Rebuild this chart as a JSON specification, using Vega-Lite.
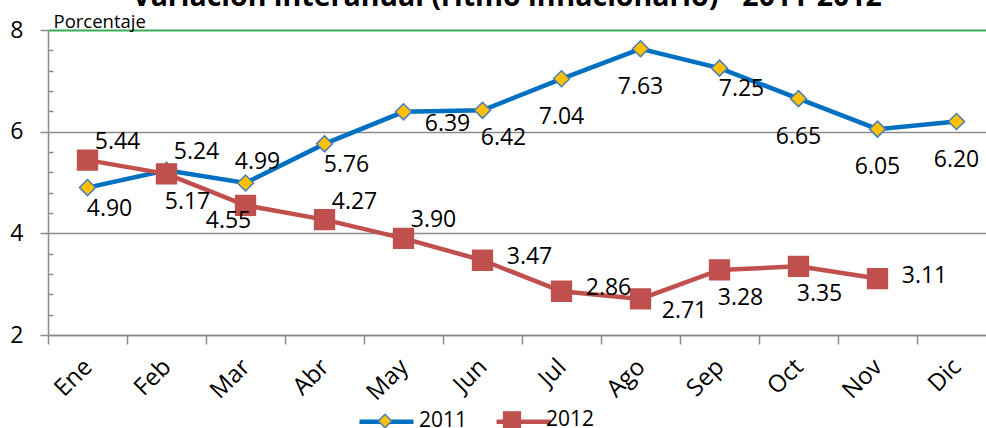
{
  "$schema": "https://vega.github.io/schema/vega-lite/v6.json",
  "width": 938,
  "height": 305,
  "autosize": {"type": "none"},
  "padding": {"left": 48, "top": 30, "right": 0, "bottom": 93},
  "background": "white",
  "config": {"font": "Open Sans", "view": {"stroke": null}},
  "title": {"text": "Variación interanual (ritmo inflacionario) - 2011-2012", "fontSize": 28.5, "fontWeight": "bold", "font": "Open Sans", "color": "black", "anchor": "middle", "frame": "group", "baseline": "alphabetic", "offset": 0, "dy": 22, "dx": -10},
  "data": {"values": [
    {"mes": "Ene", "anio": "2011", "valor": 4.90},
    {"mes": "Feb", "anio": "2011", "valor": 5.24},
    {"mes": "Mar", "anio": "2011", "valor": 4.99},
    {"mes": "Abr", "anio": "2011", "valor": 5.76},
    {"mes": "May", "anio": "2011", "valor": 6.39},
    {"mes": "Jun", "anio": "2011", "valor": 6.42},
    {"mes": "Jul", "anio": "2011", "valor": 7.04},
    {"mes": "Ago", "anio": "2011", "valor": 7.63},
    {"mes": "Sep", "anio": "2011", "valor": 7.25},
    {"mes": "Oct", "anio": "2011", "valor": 6.65},
    {"mes": "Nov", "anio": "2011", "valor": 6.05},
    {"mes": "Dic", "anio": "2011", "valor": 6.20},
    {"mes": "Ene", "anio": "2012", "valor": 5.44},
    {"mes": "Feb", "anio": "2012", "valor": 5.17},
    {"mes": "Mar", "anio": "2012", "valor": 4.55},
    {"mes": "Abr", "anio": "2012", "valor": 4.27},
    {"mes": "May", "anio": "2012", "valor": 3.90},
    {"mes": "Jun", "anio": "2012", "valor": 3.47},
    {"mes": "Jul", "anio": "2012", "valor": 2.86},
    {"mes": "Ago", "anio": "2012", "valor": 2.71},
    {"mes": "Sep", "anio": "2012", "valor": 3.28},
    {"mes": "Oct", "anio": "2012", "valor": 3.35},
    {"mes": "Nov", "anio": "2012", "valor": 3.11}
  ]},
  "layer": [
    {
      "mark": {"type": "line", "strokeWidth": 4.5},
      "encoding": {
        "x": {"field": "mes", "type": "nominal", "sort": ["Ene","Feb","Mar","Abr","May","Jun","Jul","Ago","Sep","Oct","Nov","Dic"],
          "scale": {"type": "band", "range": [0, 948], "paddingInner": 0, "paddingOuter": 0},
          "axis": {"title": null, "bandPosition": 0, "labelOffset": 1, "labelAngle": -45, "labelAlign": "right", "labelBaseline": "middle", "labelPadding": 19, "labelFontSize": 24, "labelColor": "black", "labelFont": "Open Sans", "tickSize": 9, "tickColor": "#8C8C8C", "tickWidth": 1.5, "domainColor": "#8C8C8C", "domainWidth": 1.5, "grid": false}},
        "y": {"field": "valor", "type": "quantitative", "scale": {"domain": [2, 8], "nice": false, "zero": false},
          "axis": {"values": [2, 2.4, 2.8, 3.2, 3.6, 4, 4.4, 4.8, 5.2, 5.6, 6, 6.4, 6.8, 7.2, 7.6, 8],
            "tickCount": 20,
            "labelExpr": "datum.value % 2 == 0 ? format(datum.value, 'd') : ''",
            "labelOverlap": false,
            "title": "Porcentaje", "titleAngle": 0, "titleAlign": "left", "titleBaseline": "alphabetic", "titleX": 5, "titleY": -3, "titleFontSize": 18.5, "titleFontWeight": "normal", "titleColor": "black", "titleFont": "Open Sans",
            "labelFontSize": 23, "labelColor": "black", "labelFont": "Open Sans", "labelPadding": 17,
            "tickSize": {"condition": {"test": "datum.value % 2 == 0", "value": 8}, "value": -5},
            "tickColor": "#8C8C8C", "tickWidth": 1.5, "domainColor": "#8C8C8C", "domainWidth": 1.5, "grid": true,
            "gridColor": {"condition": {"test": "datum.value == 8", "value": "#3AAA58"}, "value": "#8C8C8C"},
            "gridOpacity": {"condition": {"test": "datum.value % 2 == 0", "value": 1}, "value": 0},
            "gridWidth": {"condition": {"test": "datum.value == 8", "value": 2}, "value": 1.5}}},
        "color": {"field": "anio", "type": "nominal", "scale": {"domain": ["2011", "2012"], "range": ["#0070C0", "#C0504D"]},
          "legend": {"orient": "none", "legendX": 309, "legendY": 362, "direction": "horizontal", "title": null, "symbolType": "stroke", "symbolSize": 2916, "symbolStrokeWidth": 4.5, "labelFontSize": 21, "labelFont": "Open Sans", "labelOpacity": 0, "labelOffset": 6, "columnPadding": 16, "padding": 0, "zindex": 0}}
      }
    },
    {
      "mark": {"type": "point", "filled": true, "size": 4096, "strokeWidth": 1.5, "opacity": 1},
      "encoding": {
        "x": {"field": "mes", "type": "nominal", "sort": ["Ene","Feb","Mar","Abr","May","Jun","Jul","Ago","Sep","Oct","Nov","Dic"]},
        "y": {"field": "valor", "type": "quantitative"},
        "fill": {"field": "anio", "type": "nominal", "scale": {"range": ["#FFC000", "#C0504D"]},
          "legend": {"orient": "none", "legendX": 309, "legendY": 362, "direction": "horizontal", "title": null, "symbolSize": 2916, "symbolStrokeWidth": 1.5, "labelFontSize": 21, "labelFont": "Open Sans", "labelColor": "black", "labelOffset": 6, "columnPadding": 16, "padding": 0, "zindex": 1}},
        "stroke": {"field": "anio", "type": "nominal", "scale": {"range": ["#4A7EBB", "#C0504D"]}},
        "shape": {"field": "anio", "type": "nominal", "scale": {"range": ["M0,-0.25L0.25,0L0,0.25L-0.25,0Z", "M-0.31,-0.31H0.31V0.31H-0.31Z"]}}
      }
    },
    {
      "transform": [{"filter": "datum.anio == '2011' && indexof(['Jul','Ago','Oct','Nov','Dic'], datum.mes) >= 0"}],
      "mark": {"type": "text", "fontSize": 23, "font": "Open Sans", "color": "black", "align": "center", "baseline": "middle", "dx": 0, "dy": 38},
      "encoding": {"x": {"field": "mes", "type": "nominal", "sort": ["Ene","Feb","Mar","Abr","May","Jun","Jul","Ago","Sep","Oct","Nov","Dic"]}, "y": {"field": "valor", "type": "quantitative"}, "text": {"field": "valor", "type": "quantitative", "format": ".2f"}}
    },
    {
      "transform": [{"filter": "datum.anio == '2011' && indexof(['Ene','Abr','Sep'], datum.mes) >= 0"}],
      "mark": {"type": "text", "fontSize": 23, "font": "Open Sans", "color": "black", "align": "center", "baseline": "middle", "dx": 22, "dy": 21},
      "encoding": {"x": {"field": "mes", "type": "nominal", "sort": ["Ene","Feb","Mar","Abr","May","Jun","Jul","Ago","Sep","Oct","Nov","Dic"]}, "y": {"field": "valor", "type": "quantitative"}, "text": {"field": "valor", "type": "quantitative", "format": ".2f"}}
    },
    {
      "transform": [{"filter": "(datum.anio == '2011' && datum.mes == 'Jun') || (datum.anio == '2012' && indexof(['Feb','Sep','Oct'], datum.mes) >= 0)"}],
      "mark": {"type": "text", "fontSize": 23, "font": "Open Sans", "color": "black", "align": "center", "baseline": "middle", "dx": 21, "dy": 28},
      "encoding": {"x": {"field": "mes", "type": "nominal", "sort": ["Ene","Feb","Mar","Abr","May","Jun","Jul","Ago","Sep","Oct","Nov","Dic"]}, "y": {"field": "valor", "type": "quantitative"}, "text": {"field": "valor", "type": "quantitative", "format": ".2f"}}
    },
    {
      "transform": [{"filter": "(datum.anio == '2011' && datum.mes == 'Feb') || (datum.anio == '2012' && indexof(['Ene','May','Abr'], datum.mes) >= 0)"}],
      "mark": {"type": "text", "fontSize": 23, "font": "Open Sans", "color": "black", "align": "center", "baseline": "middle", "dx": 30, "dy": -18},
      "encoding": {"x": {"field": "mes", "type": "nominal", "sort": ["Ene","Feb","Mar","Abr","May","Jun","Jul","Ago","Sep","Oct","Nov","Dic"]}, "y": {"field": "valor", "type": "quantitative"}, "text": {"field": "valor", "type": "quantitative", "format": ".2f"}}
    },
    {
      "transform": [{"filter": "datum.anio == '2011' && datum.mes == 'Mar'"}],
      "mark": {"type": "text", "fontSize": 23, "font": "Open Sans", "color": "black", "align": "center", "baseline": "middle", "dx": 12, "dy": -21},
      "encoding": {"x": {"field": "mes", "type": "nominal", "sort": ["Ene","Feb","Mar","Abr","May","Jun","Jul","Ago","Sep","Oct","Nov","Dic"]}, "y": {"field": "valor", "type": "quantitative"}, "text": {"field": "valor", "type": "quantitative", "format": ".2f"}}
    },
    {
      "transform": [{"filter": "datum.anio == '2012' && indexof(['Jun','Jul','Nov'], datum.mes) >= 0"}],
      "mark": {"type": "text", "fontSize": 23, "font": "Open Sans", "color": "black", "align": "center", "baseline": "middle", "dx": 47, "dy": -3},
      "encoding": {"x": {"field": "mes", "type": "nominal", "sort": ["Ene","Feb","Mar","Abr","May","Jun","Jul","Ago","Sep","Oct","Nov","Dic"]}, "y": {"field": "valor", "type": "quantitative"}, "text": {"field": "valor", "type": "quantitative", "format": ".2f"}}
    },
    {
      "transform": [{"filter": "(datum.anio == '2011' && datum.mes == 'May') || (datum.anio == '2012' && datum.mes == 'Ago')"}],
      "mark": {"type": "text", "fontSize": 23, "font": "Open Sans", "color": "black", "align": "center", "baseline": "middle", "dx": 44, "dy": 12},
      "encoding": {"x": {"field": "mes", "type": "nominal", "sort": ["Ene","Feb","Mar","Abr","May","Jun","Jul","Ago","Sep","Oct","Nov","Dic"]}, "y": {"field": "valor", "type": "quantitative"}, "text": {"field": "valor", "type": "quantitative", "format": ".2f"}}
    },
    {
      "transform": [{"filter": "datum.anio == '2012' && datum.mes == 'Mar'"}],
      "mark": {"type": "text", "fontSize": 23, "font": "Open Sans", "color": "black", "align": "center", "baseline": "middle", "dx": -17, "dy": 16},
      "encoding": {"x": {"field": "mes", "type": "nominal", "sort": ["Ene","Feb","Mar","Abr","May","Jun","Jul","Ago","Sep","Oct","Nov","Dic"]}, "y": {"field": "valor", "type": "quantitative"}, "text": {"field": "valor", "type": "quantitative", "format": ".2f"}}
    }
  ]
}
